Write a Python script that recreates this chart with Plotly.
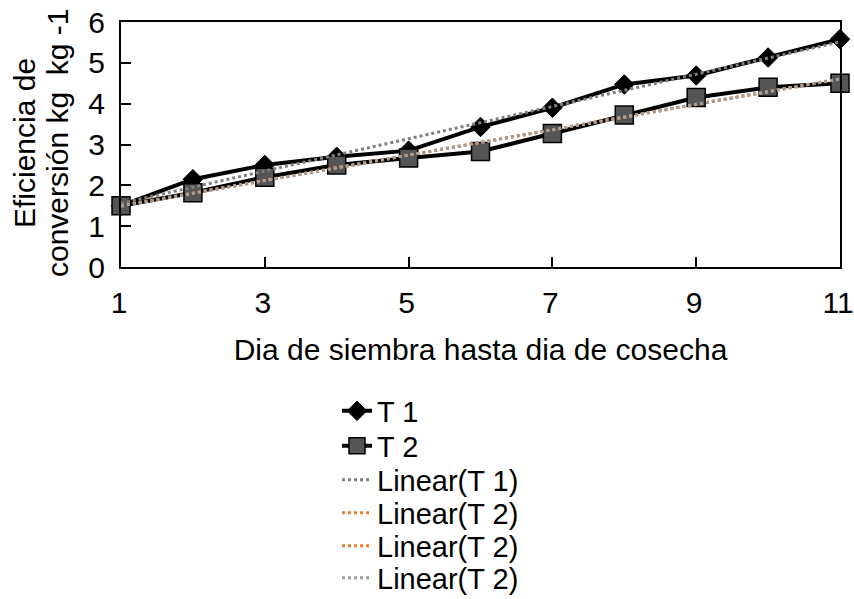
import numpy as np
import plotly.graph_objects as go

dias = [1, 2, 3, 4, 5, 6, 7, 8, 9, 10, 11]
t1 = [1.5, 2.15, 2.5, 2.7, 2.85, 3.43, 3.9, 4.47, 4.69, 5.13, 5.58]
t2 = [1.5, 1.82, 2.2, 2.5, 2.67, 2.83, 3.27, 3.72, 4.15, 4.4, 4.5]
xticks = [1, 3, 5, 7, 9, 11]
yticks = [0, 1, 2, 3, 4, 5, 6]
ytitle_lines = ["Eficiencia de", "conversión kg  kg -1"]

FONT = "Liberation Sans, Arial, sans-serif"
FS = 30
LFS = 29
W, H = 854, 599
L, R, T, B = 121, 14, 22, 332
PW, PH = W - L - R, H - T - B

def linfit(x, y):
    m, b = np.polyfit(x, y, 1)
    return [m * xi + b for xi in x]

fit1 = linfit(dias, t1)
fit2 = linfit(dias, t2)

fig = go.Figure()
fig.add_trace(go.Scatter(x=dias, y=t1, name="T 1", mode="lines+markers",
                         line=dict(color="black", width=4),
                         marker=dict(symbol="diamond", size=15, color="black",
                                     line=dict(color="black", width=1)),
                         cliponaxis=False, legend="legend"))
fig.add_trace(go.Scatter(x=dias, y=t2, name="T 2", mode="lines+markers",
                         line=dict(color="black", width=4),
                         marker=dict(symbol="square", size=18, color="#555555",
                                     line=dict(color="black", width=1.5)),
                         cliponaxis=False, legend="legend2"))
fig.add_trace(go.Scatter(x=dias, y=fit1, name="Linear(T 1)", mode="lines",
                         line=dict(color="#808080", width=3, dash="dot"),
                         legend="legend3"))
fig.add_trace(go.Scatter(x=dias, y=fit2, name="Linear(T 2)", mode="lines",
                         line=dict(color="#ED7D31", width=3, dash="dot"),
                         legend="legend4"))
fig.add_trace(go.Scatter(x=dias, y=fit2, name="Linear(T 2)", mode="lines",
                         line=dict(color="#ED7D31", width=3, dash="dot"),
                         legend="legend5"))
fig.add_trace(go.Scatter(x=dias, y=fit2, name="Linear(T 2)", mode="lines",
                         line=dict(color="#A0A0A0", width=3, dash="dot"),
                         legend="legend6"))

leg_y = [411, 446, 480, 513, 546, 578]
legends = {}
for i, yy in enumerate(leg_y):
    key = "legend" if i == 0 else f"legend{i + 1}"
    legends[key] = dict(xref="container", yref="container",
                        x=337 / W, y=1 - yy / H, xanchor="left", yanchor="middle",
                        font=dict(family=FONT, size=LFS, color="black"),
                        itemwidth=30, bgcolor="rgba(0,0,0,0)")

title_x = [24, 57]
annots = []
for txt, px in zip(ytitle_lines, title_x):
    annots.append(dict(text=txt, xref="paper", yref="paper",
                       x=(px - L) / PW, y=(H - B - 143) / PH,
                       xanchor="center", yanchor="middle", textangle=-90,
                       showarrow=False,
                       font=dict(family=FONT, size=FS, color="black")))

fig.update_layout(
    width=W, height=H,
    margin=dict(l=L, r=R, t=T, b=B, autoexpand=False),
    paper_bgcolor="white", plot_bgcolor="white",
    font=dict(family=FONT, size=FS, color="black"),
    showlegend=True,
    xaxis=dict(range=[1, 11], tickvals=xticks, ticks="inside", ticklen=10,
               tickwidth=1.5, tickcolor="black", showline=True, linecolor="black",
               linewidth=2, mirror=True, showgrid=False, zeroline=False,
               automargin=False, ticklabeloverflow="allow",
               title=dict(text="Dia de siembra hasta dia de cosecha",
                          font=dict(size=FS), standoff=21),
               tickfont=dict(size=FS), ticklabelstandoff=8, ticklabelshift=-2),
    yaxis=dict(range=[0, 6], tickvals=yticks, ticks="inside", ticklen=10,
               tickwidth=1.5, tickcolor="black", showline=True, linecolor="black",
               linewidth=2, mirror=True, showgrid=False, zeroline=False,
               automargin=False, ticklabeloverflow="allow",
               tickfont=dict(size=FS), ticklabelstandoff=8),
    annotations=annots,
    **legends,
)

fig.write_html("out.html", config={"displayModeBar": False},
               post_script="document.body.style.margin='0';document.body.style.overflow='hidden';")
